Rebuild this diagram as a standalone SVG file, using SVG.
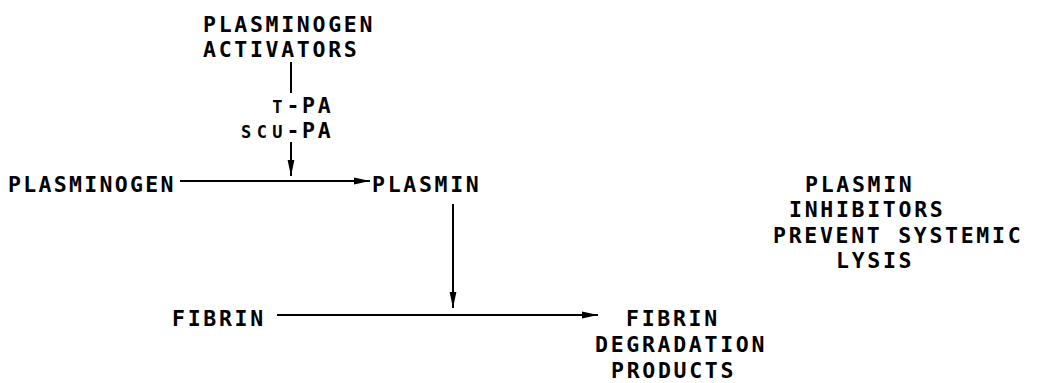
<svg xmlns="http://www.w3.org/2000/svg" width="1039" height="383" viewBox="0 0 1039 383">
<defs>
<style>
text{font-family:"DejaVu Sans Mono","Liberation Mono",monospace;font-weight:bold;font-size:21.5px;letter-spacing:2.7px;fill:#000}
.pa{letter-spacing:0;text-anchor:middle}
.sm{font-size:17px}
.c{stroke:#000;stroke-width:2;fill:none}
</style>
<marker id="ah" viewBox="0 0 16 8" refX="16" refY="4" markerWidth="16" markerHeight="8" markerUnits="userSpaceOnUse" orient="auto">
<path d="M0,0.6 L16,4 L0,7.4 Z" fill="#000"/>
</marker>
</defs>
<rect width="1039" height="383" fill="#fff"/>
<g id="connectors">
<line class="c" x1="291" y1="62" x2="291" y2="93"/>
<line class="c" x1="291" y1="142" x2="291" y2="176" marker-end="url(#ah)"/>
<line class="c" x1="180" y1="181" x2="370" y2="181" marker-end="url(#ah)"/>
<line class="c" x1="453" y1="204" x2="453" y2="308" marker-end="url(#ah)"/>
<line class="c" x1="277" y1="315" x2="598" y2="315" marker-end="url(#ah)"/>
</g>
<g id="activators">
<text x="203" y="32">PLASMINOGEN</text>
<text x="203" y="57">ACTIVATORS</text>
</g>
<g id="tpa">
<text class="pa" y="113"><tspan class="sm" x="277.4">T</tspan><tspan x="293 308.6 324.2">-PA</tspan></text>
<text class="pa" y="138"><tspan class="sm" x="246.2 261.8 277.4">SCU</tspan><tspan x="293 308.6 324.2">-PA</tspan></text>
</g>
<g id="plasminogen"><text x="8" y="192" style="letter-spacing:2.3px">PLASMINOGEN</text></g>
<g id="plasmin"><text x="372" y="192">PLASMIN</text></g>
<g id="fibrin"><text x="172" y="326">FIBRIN</text></g>
<g id="fdp">
<text x="626" y="326">FIBRIN</text>
<text x="595" y="352">DEGRADATION</text>
<text x="611" y="378">PRODUCTS</text>
</g>
<g id="inhibitors">
<text x="805" y="192">PLASMIN</text>
<text x="789" y="217">INHIBITORS</text>
<text x="773" y="243">PREVENT SYSTEMIC</text>
<text x="836" y="268">LYSIS</text>
</g>
</svg>
